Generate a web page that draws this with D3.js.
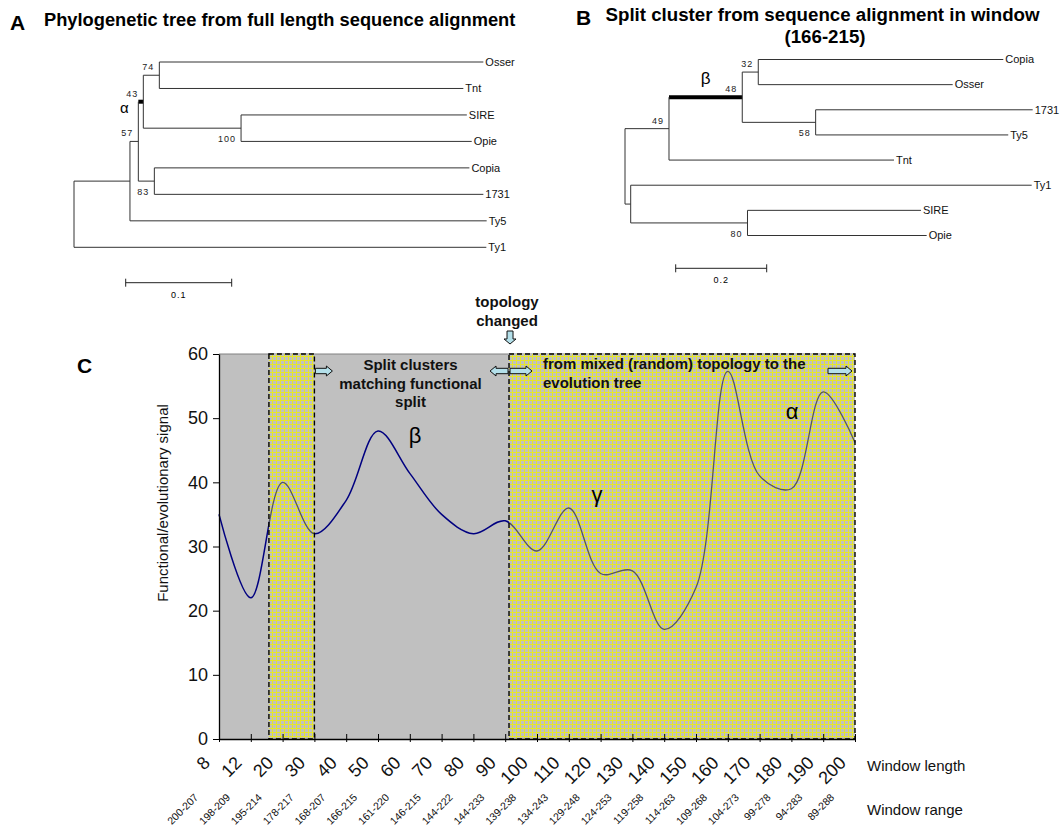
<!DOCTYPE html>
<html>
<head>
<meta charset="utf-8">
<script src="https://cdn.jsdelivr.net/npm/d3@7"></script>
<style>
  body { margin: 0; background: #fff; }
  text { font-family: Arial, "Liberation Sans", sans-serif; }
</style>
</head>
<body>
<script>
// ---- data ----
var windowLength = ["8","12","20","30","40","50","60","70","80","90","100",
                    "110","120","130","140","150","160","170","180","190","200"];
var windowRange = ["200-207","198-209","195-214","178-217","168-207","166-215","161-220",
                   "146-215","144-222","144-233","139-238","134-243","129-248","124-253",
                   "119-258","114-263","109-268","104-273","99-278","94-283","89-288"];
var signal = [35, 22, 40, 32, 37.2, 48, 41.4, 35, 32, 34, 29.3,
              36, 25.8, 26.2, 17.1, 23.6, 57.3, 41, 39, 54.1, 46.2];
var yTicks = [0, 10, 20, 30, 40, 50, 60];
// yellow zones, in window index units
var zoneStart = [1.57, 9.12];
var zoneEnd = [3, 20];

// trees (newick, branch lengths, bootstrap as internal names)
var newickA = "(((((Osser:0.3057,Tnt:0.2868)74:0.0151,(SIRE:0.213,Opie:0.2176)100:0.0922)43:0.0047," +
              "(Copia:0.2972,1731:0.3104)83:0.0151)57:0.0079,Ty5:0.3365):0.0528,Ty1:0.389);";
var newickB = "((((Copia:0.5385,Osser:0.4273)32:0.0352,(1731:0.477,Ty5:0.4233)58:0.1613)48:0.161," +
              "Tnt:0.4945)49:0.0967,(Ty1:0.8813,(SIRE:0.3813,Opie:0.3938)80:0.2567):0.0125);";

var svg = d3.select("body").append("svg")
    .attr("width", 1064)
    .attr("height", 833);

// ---- small newick reader ----
function parseNewick(s) {
    var stack = [], node = {}, tokens = s.split(/\s*(;|\(|\)|,|:)\s*/);
    for (var i = 0; i < tokens.length; i++) {
        var t = tokens[i], prev = tokens[i - 1];
        if (t == "(") { var c = {}; node.children = [c]; stack.push(node); node = c; }
        else if (t == ",") { var c2 = {}; stack[stack.length - 1].children.push(c2); node = c2; }
        else if (t == ")") { node = stack.pop(); }
        else if (t == ":" || t == ";" || t == "") { }
        else if (prev == ":") { node.length = parseFloat(t); }
        else { node.name = t; }
    }
    return node;
}

function drawTree(g, newick, cfg) {
    var root = d3.hierarchy(parseNewick(newick));
    root.eachBefore(function(d) { d.len = (d.parent ? d.parent.len : 0) + (d.data.length || 0); });

    var xs = d3.scaleLinear().domain([0, cfg.barUnit]).range([cfg.x0, cfg.x0 + cfg.barPx]);
    var ys = d3.scalePoint().domain(root.leaves().map(function(d) { return d.data.name; }))
        .range([cfg.yTop, cfg.yBottom]);

    root.eachAfter(function(d) {
        d.px = xs(d.len);
        d.py = d.children ? (d.children[0].py + d.children[d.children.length - 1].py) / 2 : ys(d.data.name);
    });

    // horizontal branches
    g.selectAll(".hbr")
        .data(root.descendants().filter(function(d) { return d.parent; }))
        .enter().append("line")
        .attr("x1", function(d) { return d.parent.px; })
        .attr("x2", function(d) { return d.px; })
        .attr("y1", function(d) { return d.py; })
        .attr("y2", function(d) { return d.py; })
        .attr("stroke", function(d) { return d.data.name == cfg.thick ? "#000" : "#333"; })
        .attr("stroke-width", function(d) { return d.data.name == cfg.thick ? 4 : 1; });

    // vertical connectors
    g.selectAll(".vbr")
        .data(root.descendants().filter(function(d) { return d.children; }))
        .enter().append("line")
        .attr("x1", function(d) { return d.px; })
        .attr("x2", function(d) { return d.px; })
        .attr("y1", function(d) { return d.children[0].py; })
        .attr("y2", function(d) { return d.children[d.children.length - 1].py; })
        .attr("stroke", "#333")
        .attr("stroke-width", 1);

    // leaf names
    g.selectAll(".leaf")
        .data(root.leaves())
        .enter().append("text")
        .attr("x", function(d) { return d.px + 2; })
        .attr("y", function(d) { return d.py; })
        .attr("dy", "0.35em")
        .attr("font-size", 11)
        .attr("fill", "#111")
        .text(function(d) { return d.data.name; });

    // bootstrap values
    g.selectAll(".boot")
        .data(root.descendants().filter(function(d) { return d.children && d.parent && d.data.name; }))
        .enter().append("text")
        .attr("x", function(d) { return d.px - 5; })
        .attr("y", function(d) { return d.py + (d.parent.children[0] === d ? -5 : 14); })
        .attr("text-anchor", "end")
        .attr("font-size", 9)
        .attr("letter-spacing", 1)
        .attr("fill", "#222")
        .text(function(d) { return d.data.name; });

    // greek letter on the thick branch
    var th = root.descendants().filter(function(d) { return d.data.name == cfg.thick; })[0];
    g.append("text")
        .attr("x", th.parent.px + (th.px - th.parent.px) * cfg.greekPos + cfg.greekDx)
        .attr("y", th.py + cfg.greekDy)
        .attr("text-anchor", "middle")
        .attr("font-size", cfg.greekSize)
        .text(cfg.greek);

    // scale bar
    var bx = cfg.barX, bw = xs(cfg.barUnit) - xs(0);
    g.append("path")
        .attr("d", "M" + bx + "," + (cfg.barY - 4) + "V" + (cfg.barY + 4) +
                   "M" + bx + "," + cfg.barY + "H" + (bx + bw) +
                   "M" + (bx + bw) + "," + (cfg.barY - 4) + "V" + (cfg.barY + 4))
        .attr("stroke", "#222").attr("fill", "none");
    g.append("text")
        .attr("x", bx + bw / 2)
        .attr("y", cfg.barY + 15)
        .attr("text-anchor", "middle")
        .attr("font-size", 9)
        .attr("letter-spacing", 1)
        .text(String(cfg.barUnit));
}

// ---- panel A ----
svg.append("text").attr("x", 10).attr("y", 30).attr("font-size", 21).attr("font-weight", "bold").text("A");
svg.append("text").attr("x", 44).attr("y", 26).attr("font-size", 18.3).attr("font-weight", "bold")
    .text("Phylogenetic tree from full length sequence alignment");
drawTree(svg.append("g"), newickA, {
    x0: 74, barUnit: 0.1, barPx: 106, yTop: 62, yBottom: 247.3,
    thick: "43", greek: "α", greekPos: 0, greekDx: -14, greekDy: 11, greekSize: 15,
    barX: 125.7, barY: 282.7
});

// ---- panel B ----
svg.append("text").attr("x", 576).attr("y", 25).attr("font-size", 21).attr("font-weight", "bold").text("B");
svg.append("text").attr("x", 605.5).attr("y", 20.5).attr("font-size", 18.7).attr("font-weight", "bold")
    .text("Split cluster from sequence alignment in window");
svg.append("text").attr("x", 825).attr("y", 43).attr("text-anchor", "middle").attr("font-size", 18.7)
    .attr("font-weight", "bold").text("(166-215)");
drawTree(svg.append("g"), newickB, {
    x0: 625, barUnit: 0.2, barPx: 91, yTop: 59.5, yBottom: 235.5,
    thick: "48", greek: "β", greekPos: 0.5, greekDx: 0, greekDy: -13, greekSize: 17,
    barX: 675.7, barY: 268.3
});

// ---- panel C ----
var x = d3.scalePoint().domain(windowLength).range([219, 855]);
var xi = d3.scaleLinear().domain([0, windowLength.length - 1]).range([219, 855]);
var y = d3.scaleLinear().domain([0, 60]).range([739, 354]);

var defs = svg.append("defs");
var pat = defs.append("pattern").attr("id", "yellowGrid")
    .attr("width", 4).attr("height", 4).attr("patternUnits", "userSpaceOnUse");
pat.append("rect").attr("width", 4).attr("height", 4).attr("fill", "#c0c0c0");
pat.append("rect").attr("width", 4).attr("height", 1).attr("fill", "#ecec10").attr("fill-opacity", 0.85);
pat.append("rect").attr("y", 1).attr("width", 1).attr("height", 3).attr("fill", "#ecec10").attr("fill-opacity", 0.85);

var clip = defs.append("clipPath").attr("id", "zoneClip");
clip.selectAll("rect")
    .data(zoneStart)
    .enter().append("rect")
    .attr("x", function(d) { return xi(d); })
    .attr("y", y(60))
    .attr("width", function(d, i) { return xi(zoneEnd[i]) - xi(d); })
    .attr("height", y(0) - y(60));

var chart = svg.append("g");

chart.append("rect")
    .attr("x", xi(0)).attr("y", y(60))
    .attr("width", xi(20) - xi(0)).attr("height", y(0) - y(60))
    .attr("fill", "#c0c0c0");
chart.append("line")
    .attr("x1", xi(0)).attr("x2", xi(20)).attr("y1", y(60)).attr("y2", y(60))
    .attr("stroke", "#808080");

var line = d3.line()
    .x(function(d, i) { return x(windowLength[i]); })
    .y(function(d) { return y(d); })
    .curve(d3.curveCatmullRom.alpha(0.5));

chart.append("path")
    .datum(signal)
    .attr("d", line)
    .attr("fill", "none")
    .attr("stroke", "#000080")
    .attr("stroke-width", 1.5);

chart.selectAll(".zone")
    .data(zoneStart)
    .enter().append("rect")
    .attr("x", function(d) { return xi(d); })
    .attr("y", y(60))
    .attr("width", function(d, i) { return xi(zoneEnd[i]) - xi(d); })
    .attr("height", y(0) - y(60))
    .attr("fill", "url(#yellowGrid)");

// the signal seen through the yellow pattern
chart.append("path")
    .datum(signal)
    .attr("d", line)
    .attr("clip-path", "url(#zoneClip)")
    .attr("fill", "none")
    .attr("stroke", "#40405a")
    .attr("stroke-opacity", 0.85)
    .attr("stroke-width", 1.3);

chart.selectAll(".zoneEdge")
    .data(zoneStart)
    .enter().append("rect")
    .attr("x", function(d) { return xi(d); })
    .attr("y", y(60))
    .attr("width", function(d, i) { return xi(zoneEnd[i]) - xi(d); })
    .attr("height", y(0) - y(60))
    .attr("fill", "none")
    .attr("stroke", "#000")
    .attr("stroke-width", 1.4)
    .attr("stroke-dasharray", "5,3");

// y axis
var yAxis = chart.append("g")
    .attr("transform", "translate(" + xi(0) + ",0)")
    .call(d3.axisLeft(y).tickValues(yTicks).tickSize(6).tickSizeOuter(0).tickPadding(5));
yAxis.attr("font-family", null).attr("font-size", null);
yAxis.selectAll("text").attr("font-size", 18).attr("fill", "#111");
yAxis.select(".domain").attr("stroke-width", 1.3);

// x axis
var xAxis = chart.append("g")
    .attr("transform", "translate(0," + y(0) + ")")
    .call(d3.axisBottom(x).tickSize(3).tickSizeOuter(0).tickFormat(""));
xAxis.selectAll(".tick line").attr("y1", -5);
xAxis.select(".domain").attr("stroke-width", 1.5);

chart.selectAll(".wl")
    .data(windowLength)
    .enter().append("text")
    .attr("transform", function(d) { return "translate(" + (x(d) - 8) + ",764) rotate(-45)"; })
    .attr("text-anchor", "end")
    .attr("font-size", 18)
    .attr("fill", "#111")
    .text(function(d) { return d; });

chart.selectAll(".wr")
    .data(windowRange)
    .enter().append("text")
    .attr("transform", function(d, i) { return "translate(" + (xi(i) - 20) + ",798) rotate(-45)"; })
    .attr("text-anchor", "end")
    .attr("font-size", 10.5)
    .attr("fill", "#111")
    .text(function(d) { return d; });

chart.append("text").attr("x", 867).attr("y", 771).attr("font-size", 15).attr("fill", "#111").text("Window length");
chart.append("text").attr("x", 867).attr("y", 815).attr("font-size", 15).attr("fill", "#111").text("Window range");

chart.append("text")
    .attr("transform", "translate(168,503) rotate(-90)")
    .attr("text-anchor", "middle")
    .attr("font-size", 15)
    .attr("fill", "#111")
    .text("Functional/evolutionary signal");

svg.append("text").attr("x", 77).attr("y", 373).attr("font-size", 21).attr("font-weight", "bold").text("C");

// annotations
function note(lines, x0, y0, anchor) {
    var t = chart.append("text")
        .attr("x", x0).attr("y", y0)
        .attr("text-anchor", anchor)
        .attr("font-size", 15)
        .attr("font-weight", "bold")
        .attr("fill", "#111");
    lines.forEach(function(s, i) {
        t.append("tspan").attr("x", x0).attr("dy", i ? 18.5 : 0).text(s);
    });
}
note(["topology", "changed"], xi(zoneStart[1]) - 2, 307, "middle");
note(["Split clusters", "matching functional", "split"], 410.5, 370, "middle");
note(["from mixed (random) topology to the", "evolution tree"], 543, 369, "start");

function hArrow(x0, x1, yc) {
    var dir = x1 > x0 ? 1 : -1, hx = x1 - dir * 6;
    return "M" + x0 + "," + (yc - 2.7) + "H" + hx + "V" + (yc - 5) + "L" + x1 + "," + yc +
           "L" + hx + "," + (yc + 5) + "V" + (yc + 2.7) + "H" + x0 + "Z";
}
function vArrow(xc, y0, y1) {
    var hy = y1 - 5;
    return "M" + (xc - 3) + "," + y0 + "V" + hy + "H" + (xc - 6) + "L" + xc + "," + y1 +
           "L" + (xc + 6) + "," + hy + "H" + (xc + 3) + "V" + y0 + "Z";
}
var arrows = [
    hArrow(xi(zoneEnd[0]) + 1, xi(zoneEnd[0]) + 18, 371),
    hArrow(xi(zoneStart[1]) - 1, xi(zoneStart[1]) - 19, 371),
    hArrow(xi(zoneStart[1]) + 1, xi(zoneStart[1]) + 23, 371),
    hArrow(xi(zoneEnd[1]) - 27, xi(zoneEnd[1]) - 3, 371),
    vArrow(xi(zoneStart[1]) + 1, 331, 344)
];
chart.selectAll(".arrow")
    .data(arrows)
    .enter().append("path")
    .attr("d", function(d) { return d; })
    .attr("fill", "#b4e0ea")
    .attr("stroke", "#111")
    .attr("stroke-width", 1);

chart.append("text").attr("x", 415).attr("y", 443).attr("text-anchor", "middle").attr("font-size", 22).text("β");
chart.append("text").attr("x", 597).attr("y", 502).attr("text-anchor", "middle").attr("font-size", 22).text("γ");
chart.append("text").attr("x", 792).attr("y", 419).attr("text-anchor", "middle").attr("font-size", 22).text("α");
</script>
</body>
</html>
